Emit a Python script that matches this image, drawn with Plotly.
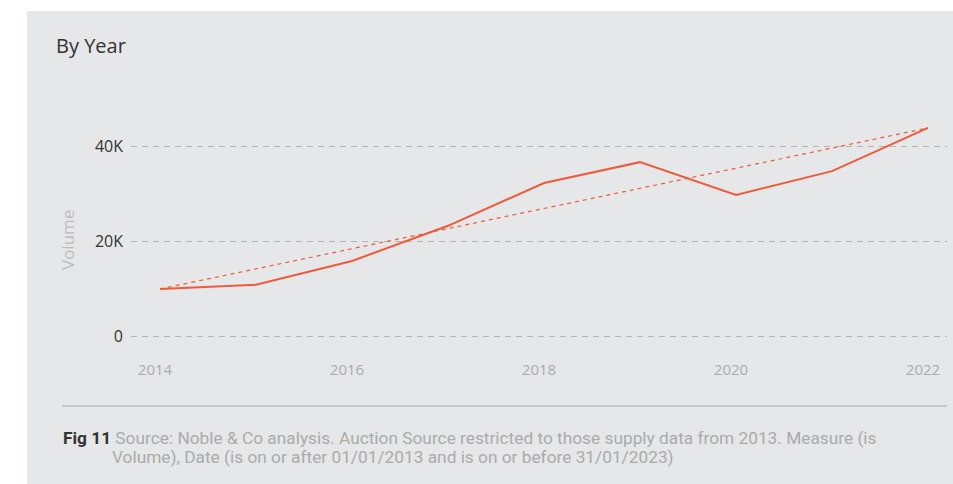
import plotly.graph_objects as go

# ---- data ----
years = [2014, 2015, 2016, 2017, 2018, 2019, 2020, 2021, 2022]
volume = [9900, 10800, 15800, 23200, 32200, 36600, 29700, 34700, 43800]
trend_years = [2014, 2022]
trend_values = [9900, 43800]
y_tickvals = [0, 20000, 40000]
y_ticktext = ["0", "20K", "40K"]
x_tickvals = [2014, 2016, 2018, 2020, 2022]
x_ticktext = ["2014", "2016", "2018", "2020", "2022"]

W, H = 953, 484
L, R, T, B = 131, 947, 110, 350
ML, MR, MT, MB = L, W - R, T, H - B
PW, PH = R - L, B - T

def px(x):
    return (x - L) / PW

def py(y):
    return (B - y) / PH

BG = "#E6E7E9"
ORANGE = "#F05A3A"
FONT = "Open Sans, Noto Sans, sans-serif"
CAP = "Roboto, sans-serif"

fig = go.Figure()
fig.add_trace(go.Scatter(x=years, y=volume, mode="lines",
                         line=dict(color=ORANGE, width=2), hoverinfo="skip",
                         showlegend=False))
fig.add_trace(go.Scatter(x=trend_years, y=trend_values, mode="lines",
                         line=dict(color=ORANGE, width=1.2, dash="4px,4px"),
                         hoverinfo="skip", showlegend=False))

per_px = 40000 / (336 - 146)
y0 = -(B - 336) * per_px
y1 = (336 - T) * per_px
per_yr = (928 - 160) / 8
x0 = 2014 - (160 - L) / per_yr
x1 = 2022 + (R - 928) / per_yr

fig.update_layout(
    width=W, height=H,
    margin=dict(l=ML, r=MR, t=MT, b=MB, pad=0),
    paper_bgcolor=BG, plot_bgcolor=BG,
    font=dict(family=FONT),
    xaxis=dict(range=[x0, x1], tickvals=x_tickvals, ticktext=x_ticktext,
               showgrid=False, zeroline=False, showline=False, ticks="",
               tickfont=dict(size=15, color="#ABABAB", family=FONT),
               ticklabelstandoff=9, ticklabelshift=-5),
    yaxis=dict(range=[y0, y1], tickvals=y_tickvals, ticktext=y_ticktext,
               showgrid=True, gridcolor="#B4B4B4", griddash="6px,5px", gridwidth=1,
               zeroline=False, showline=False, ticks="",
               tickfont=dict(size=16, color="#333333", family=FONT),
               ticklabelstandoff=7),
    shapes=[
        dict(type="rect", xref="paper", yref="paper", x0=px(-5), x1=px(27), y0=py(-5), y1=py(H + 5),
             fillcolor="white", line=dict(width=0), layer="above"),
        dict(type="rect", xref="paper", yref="paper", x0=px(-5), x1=px(W + 5), y0=py(-5), y1=py(11),
             fillcolor="white", line=dict(width=0), layer="above"),
        dict(type="line", xref="paper", yref="paper", x0=px(62), x1=px(947), y0=py(406), y1=py(406),
             line=dict(color="#C6C6C6", width=2)),
    ],
    annotations=[
        dict(text="By Year", xref="paper", yref="paper", x=px(54), y=py(45), xanchor="left",
             yanchor="middle", showarrow=False, font=dict(size=20, color="#333333", family=FONT)),
        dict(text="Volume", xref="paper", yref="paper", x=px(67), y=py(240), xanchor="center",
             yanchor="middle", textangle=-90, showarrow=False,
             font=dict(size=17, color="#BDBDBD", family=FONT)),
        dict(text="<b>Fig 11</b> <span style='color:#ABABAB'>Source: Noble &amp; Co analysis. Auction Source restricted to those supply data from 2013. Measure (is</span>",
             xref="paper", yref="paper", x=px(61), y=py(438), xanchor="left", yanchor="middle",
             showarrow=False, font=dict(size=17.3, color="#333333", family=CAP)),
        dict(text="Volume), Date (is on or after 01/01/2013 and is on or before 31/01/2023)",
             xref="paper", yref="paper", x=px(110), y=py(457), xanchor="left", yanchor="middle",
             showarrow=False, font=dict(size=17.3, color="#ABABAB", family=CAP)),
    ],
)

fig.write_html("out.html")
